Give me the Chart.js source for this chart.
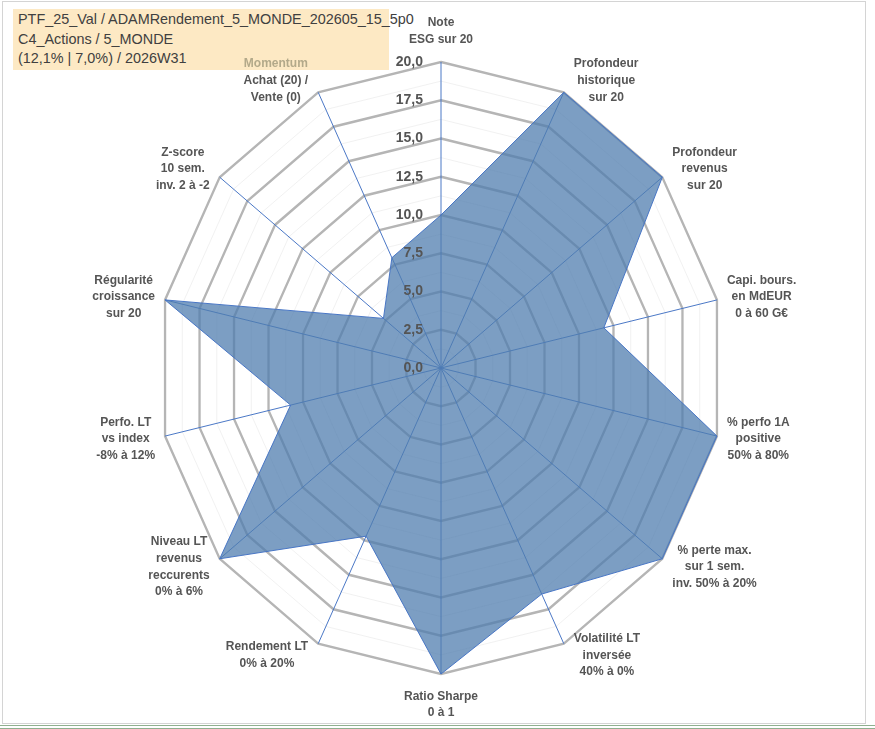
<!DOCTYPE html>
<html><head><meta charset="utf-8">
<script src="https://cdn.jsdelivr.net/npm/chart.js@4.4.1/dist/chart.umd.min.js"></script>
<style>
html,body{margin:0;padding:0;background:#fff;}
#wrap{position:relative;width:875px;height:729px;overflow:hidden;background:#fff;}
#frame{position:absolute;left:2px;top:1px;width:864px;height:723px;border:1px solid #d4d4d4;box-sizing:border-box;}
#bottomline{position:absolute;left:0;top:725px;width:875px;height:4px;border-top:1px solid #8fb08f;border-bottom:1px solid #8fb08f;box-sizing:border-box;}
#title{position:absolute;left:13px;top:9px;width:376px;height:61px;background:#fde9c4;font-family:"Liberation Sans",Arial,sans-serif;font-size:14.4px;line-height:19.5px;color:#404040;padding:1px 5px;box-sizing:border-box;white-space:nowrap;}
canvas{position:absolute;left:0;top:0;}
</style></head>
<body><div id="wrap">
<div id="frame"></div>
<div id="title"></div>
<canvas id="c" width="875" height="729"></canvas>
<div id="bottomline"></div>
</div>
<script>
const titleLines = [
  "PTF_25_Val / ADAMRendement_5_MONDE_202605_15_5p0",
  "C4_Actions / 5_MONDE",
  "(12,1% | 7,0%) / 2026W31"
];
const axisLabels = [
  ["Note", "ESG sur 20"],
  ["Profondeur", "historique", "sur 20"],
  ["Profondeur", "revenus", "sur 20"],
  ["Capi. bours.", "en MdEUR", "0 à 60 G€"],
  ["% perfo 1A", "positive", "50% à 80%"],
  ["% perte max.", "sur 1 sem.", "inv. 50% à 20%"],
  ["Volatilité LT", "inversée", "40% à 0%"],
  ["Ratio Sharpe", "0 à 1"],
  ["Rendement LT", "0% à 20%"],
  ["Niveau LT", "revenus", "reccurents", "0% à 6%"],
  ["Perfo. LT", "vs index", "-8% à 12%"],
  ["Régularité", "croissance", "sur 20"],
  ["Z-score", "10 sem.", "inv. 2 à -2"],
  ["Momentum", "Achat (20) /", "Vente (0)"]
];
const scores = [10, 20, 20, 11.8, 20, 20, 16.4, 20, 12.2, 20, 10.9, 20, 5.2, 8];
const tickValues = [0, 2.5, 5, 7.5, 10, 12.5, 15, 17.5, 20];
const highlightedLines = ["Momentum"];

document.getElementById('title').innerHTML = titleLines.map(t => '<div>' + t.replace(/&/g,'&amp;').replace(/</g,'&lt;') + '</div>').join('');

const SX = 0.925;
const isMajor = v => tickValues.some(t => Math.abs(t - v) < 1e-6);

const ellipsePlugin = {
  id: 'ellipse',
  beforeDraw(chart) {
    const s = chart.scales.r, ctx = chart.ctx;
    ctx.save();
    ctx.translate(s.xCenter, 0);
    ctx.scale(SX, 1);
    ctx.translate(-s.xCenter, 0);
  },
  afterDatasetsDraw(chart) {
    chart.ctx.restore();
  }
};

const labelPlugin = {
  id: 'labelsExcel',
  afterDraw(chart) {
    const s = chart.scales.r, ctx = chart.ctx;
    const cx = s.xCenter, cy = s.yCenter;
    ctx.save();
    ctx.font = 'bold 14px "Liberation Sans", Arial, sans-serif';
    ctx.fillStyle = '#555555';
    ctx.textAlign = 'right';
    ctx.textBaseline = 'middle';
    tickValues.forEach(v => {
      const y = cy - s.getDistanceFromCenterForValue(v);
      ctx.fillText(v.toFixed(1).replace('.', ','), cx - 18, y);
    });
    ctx.font = 'bold 12px "Liberation Sans", Arial, sans-serif';
    ctx.textAlign = 'center';
    const lh = 16.7;
    chart.data.labels.forEach((lines, i) => {
      const p = s.getPointPosition(i, s.drawingArea);
      const vx = cx + (p.x - cx) * SX, vy = p.y;
      const ang = s.getIndexAngle(i);
      const sn = Math.sin(ang), cs = Math.cos(ang);
      const w = Math.max(...lines.map(l => ctx.measureText(l).width));
      const h = lines.length * lh;
      let bx, by;
      if (Math.abs(sn) < 0.1) {
        bx = vx;
        by = cs > 0 ? vy - 14 - h / 2 : vy + 14 + h / 2;
      } else {
        bx = vx + Math.sign(sn) * (10 + w / 2);
        by = vy - cs * 13;
      }
      lines.forEach((l, k) => {
        ctx.fillStyle = highlightedLines.includes(l) ? '#b3a98a' : '#555555';
        ctx.fillText(l, bx, by - h / 2 + lh * (k + 0.5));
      });
    });
    ctx.restore();
  }
};

new Chart(document.getElementById('c'), {
  type: 'radar',
  data: {
    labels: axisLabels,
    datasets: [{
      data: scores,
      backgroundColor: 'rgba(80,125,175,0.75)',
      borderColor: '#4472c4',
      borderWidth: 1,
      pointRadius: 0,
      pointHoverRadius: 0,
      fill: true,
      clip: false
    }]
  },
  options: {
    responsive: false,
    animation: false,
    devicePixelRatio: 1,
    layout: { padding: { left: 135, right: 128, top: 62, bottom: 55 } },
    plugins: { legend: { display: false }, tooltip: { enabled: false } },
    scales: {
      r: {
        min: 0, max: 20,
        ticks: { display: false, stepSize: 1.25 },
        pointLabels: { display: false },
        grid: {
          circular: false,
          color: c => isMajor(c.tick.value) ? '#b5b5b5' : '#f0f0f0',
          lineWidth: c => isMajor(c.tick.value) ? 2.5 : 1
        },
        angleLines: { color: '#4472c4', lineWidth: 1 }
      }
    }
  },
  plugins: [ellipsePlugin, labelPlugin]
});
</script>
</body></html>
